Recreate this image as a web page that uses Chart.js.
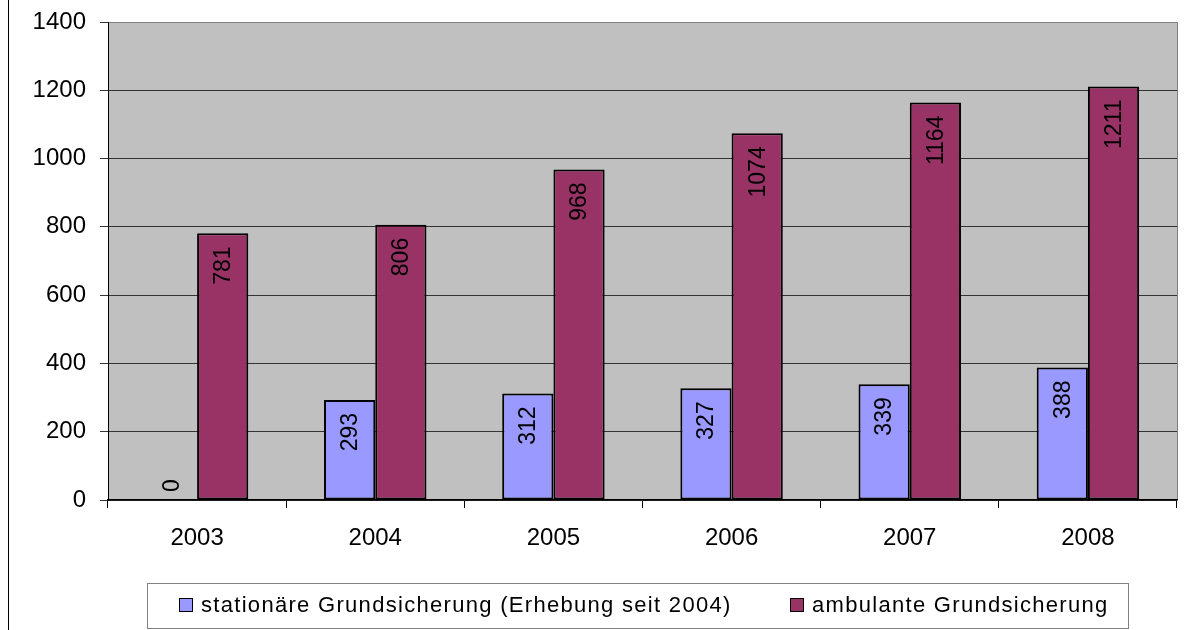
<!DOCTYPE html>
<html lang="de">
<head>
    <meta charset="UTF-8">
    <title>Grundsicherung 2003-2008</title>
    <script src="https://cdn.jsdelivr.net/npm/chart.js"></script>
    <style>
        body {
            margin: 0;
            background: #fff;
            font-family: "Liberation Sans", Arial, sans-serif;
        }

        .wrap {
            position: relative;
            width: 1190px;
            height: 630px;
        }

        .legend {
            position: absolute;
            left: 147px;
            top: 583px;
            width: 982px;
            height: 46px;
            border: 1px solid #808080;
            box-sizing: border-box;
            font-size: 22px;
            letter-spacing: 1.3px;
        }

        .legend-item {
            position: absolute;
            top: 8px;
            white-space: nowrap;
        }

        .swatch {
            display: inline-block;
            width: 12px;
            height: 12px;
            border: 1.5px solid #000;
            margin-right: 8px;
            vertical-align: 0px;
        }
    </style>
</head>
<body>
    <div class="wrap">
        <canvas id="chart" width="1190" height="630"></canvas>
        <div class="legend">
            <div class="legend-item" style="left: 31px;"><span class="swatch" style="background:#9999FF"></span><span id="lab1"></span></div>
            <div class="legend-item" style="left: 642px;"><span class="swatch" style="background:#993366"></span><span id="lab2"></span></div>
        </div>
    </div>

    <script>
        // Daten
        const years = ['2003', '2004', '2005', '2006', '2007', '2008'];
        const stationaer = [0, 293, 312, 327, 339, 388];
        const ambulant = [781, 806, 968, 1074, 1164, 1211];
        const seriesNames = ['stationäre Grundsicherung (Erhebung seit 2004)', 'ambulante Grundsicherung'];

        document.getElementById('lab1').textContent = seriesNames[0];
        document.getElementById('lab2').textContent = seriesNames[1];

        // grauer Hintergrund + Rahmen
        const plotBackground = {
            id: 'plotBackground',
            beforeDraw(chart) {
                const { ctx, chartArea: a } = chart;
                ctx.save();
                ctx.fillStyle = '#C0C0C0';
                ctx.fillRect(a.left, a.top, a.right - a.left, a.bottom - a.top);
                ctx.strokeStyle = '#808080';
                ctx.lineWidth = 1;
                ctx.beginPath();
                ctx.moveTo(a.left, a.top + 0.5);
                ctx.lineTo(a.right + 0.5, a.top + 0.5);
                ctx.lineTo(a.right + 0.5, a.bottom);
                ctx.stroke();
                // linke Rahmenlinie
                ctx.strokeStyle = '#000';
                ctx.beginPath();
                ctx.moveTo(8.5, 0);
                ctx.lineTo(8.5, chart.height);
                ctx.stroke();
                ctx.restore();
            }
        };

        // senkrechte Wertebeschriftung
        const barLabels = {
            id: 'barLabels',
            afterDatasetsDraw(chart) {
                const { ctx } = chart;
                ctx.save();
                ctx.font = '23px "Liberation Sans", Arial, sans-serif';
                ctx.fillStyle = '#000';
                ctx.textBaseline = 'middle';
                chart.data.datasets.forEach((ds, i) => {
                    chart.getDatasetMeta(i).data.forEach((bar, j) => {
                        const v = ds.data[j];
                        const h = bar.base - bar.y;
                        ctx.save();
                        if (h < 40) {
                            ctx.translate(bar.x, bar.base - 8);
                            ctx.rotate(-Math.PI / 2);
                            ctx.textAlign = 'left';
                        } else {
                            ctx.translate(bar.x, bar.y + 13);
                            ctx.rotate(-Math.PI / 2);
                            ctx.textAlign = 'right';
                        }
                        ctx.fillText(String(v), 0, 1);
                        ctx.restore();
                    });
                });
                ctx.restore();
            }
        };

        new Chart(document.getElementById('chart'), {
            type: 'bar',
            data: {
                labels: years,
                datasets: [{
                    label: seriesNames[0],
                    data: stationaer,
                    backgroundColor: '#9999FF',
                    borderColor: '#000',
                    borderWidth: 2,
                    borderSkipped: false
                }, {
                    label: seriesNames[1],
                    data: ambulant,
                    backgroundColor: '#993366',
                    borderColor: '#000',
                    borderWidth: 2,
                    borderSkipped: false
                }]
            },
            options: {
                responsive: false,
                animation: false,
                layout: {
                    padding: { left: 0, top: 22, right: 13, bottom: 0 }
                },
                datasets: {
                    bar: { categoryPercentage: 0.575, barPercentage: 1 }
                },
                plugins: {
                    legend: { display: false },
                    tooltip: { enabled: false }
                },
                scales: {
                    x: {
                        offset: true,
                        afterFit(scale) { scale.height = 130; },
                        grid: {
                            offset: true,
                            drawOnChartArea: false,
                            color: '#000',
                            tickLength: 8
                        },
                        border: { color: '#000', width: 1.5 },
                        ticks: {
                            color: '#000',
                            padding: 16,
                            font: { family: '"Liberation Sans", Arial, sans-serif', size: 24 }
                        }
                    },
                    y: {
                        min: 0,
                        max: 1400,
                        afterFit(scale) {
                            scale.width = 108;
                            scale.paddingTop = 0;
                            scale.paddingBottom = 0;
                        },
                        grid: {
                            color: ctx => ctx.tick && ctx.tick.value === 1400 ? '#808080' : '#333',
                            tickColor: '#333',
                            tickLength: 8
                        },
                        border: { color: '#000', width: 1 },
                        ticks: {
                            stepSize: 200,
                            color: '#000',
                            padding: 14,
                            callback: v => String(v),
                            font: { family: '"Liberation Sans", Arial, sans-serif', size: 24 }
                        }
                    }
                }
            },
            plugins: [plotBackground, barLabels]
        });
    </script>
</body>
</html>
